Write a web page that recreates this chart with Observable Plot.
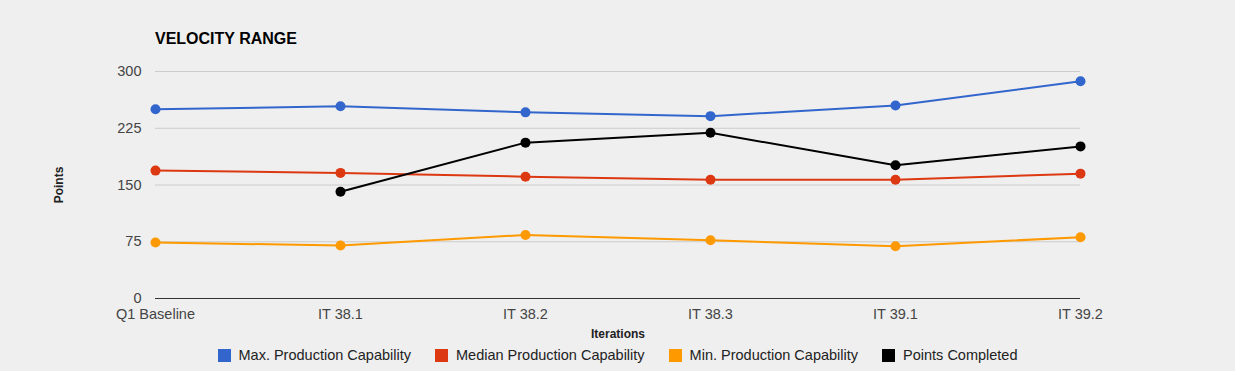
<!DOCTYPE html>
<html><head><meta charset="utf-8">
<script src="https://cdn.jsdelivr.net/npm/d3@7"></script>
<script src="https://cdn.jsdelivr.net/npm/@observablehq/plot@0.6"></script>
<style>
body{margin:0;background:#efefef;font-family:Arial,"Liberation Sans",sans-serif;}
#wrap{position:relative;width:1235px;height:371px;background:#efefef;overflow:hidden;}
#title{position:absolute;left:155px;top:30px;font-weight:bold;font-size:16px;color:#000;}
#legend{position:absolute;left:0;top:347px;width:1235px;display:flex;justify-content:center;font-size:14.5px;color:#222;}
.item{display:flex;align-items:center;margin:0 12px;}
.sw{width:13px;height:13px;margin-right:8px;display:inline-block;}
</style></head>
<body><div id="wrap"><div id="title">VELOCITY RANGE</div><div id="chart"></div><div id="legend"></div></div>
<script>
const categories = ["Q1 Baseline","IT 38.1","IT 38.2","IT 38.3","IT 39.1","IT 39.2"];
const seriesNames = ["Max. Production Capability","Median Production Capability","Min. Production Capability","Points Completed"];
const seriesColors = ["#3366cc","#dc3912","#ff9900","#000000"];
const maxCap = [250,254,246,241,255,287];
const medianCap = [169,166,161,157,157,165];
const minCap = [74,70,84,77,69,81];
const pointsCompleted = [null,141,206,219,176,201];
const yTicks = [0,75,150,225,300];

const seriesValues = [maxCap, medianCap, minCap, pointsCompleted];
const data = [];
seriesValues.forEach((vals, si) => vals.forEach((v, i) => {
  if (v != null) data.push({series: seriesNames[si], cat: categories[i], value: v});
}));

const chart = Plot.plot({
  width: 1235, height: 345,
  marginLeft: 155, marginRight: 155, marginTop: 71, marginBottom: 47,
  style: {background: "#efefef", fontFamily: "Arial, 'Liberation Sans', sans-serif"},
  x: {type: "point", domain: categories, padding: 0},
  y: {domain: [0, 300]},
  color: {domain: seriesNames, range: seriesColors},
  marks: [
    Plot.gridY(yTicks, {stroke: "#cccccc", strokeOpacity: 1}),
    Plot.ruleY([0], {stroke: "#333333", strokeWidth: 1}),
    Plot.axisY(yTicks, {tickSize: 0, tickPadding: 14, fontSize: 14.5, color: "#444", label: "Points", labelAnchor: "center", labelOffset: 101, labelArrow: "none"}),
    Plot.axisX({tickSize: 0, tickPadding: 10, fontSize: 14.5, color: "#444", label: "Iterations", labelAnchor: "center", labelOffset: 39, labelArrow: "none"}),
    Plot.line(data, {x: "cat", y: "value", z: "series", stroke: "series", strokeWidth: 2}),
    Plot.dot(data, {x: "cat", y: "value", fill: "series", r: 5})
  ]
});
document.getElementById("chart").appendChild(chart);
chart.querySelectorAll("[aria-label='y-axis label'] text, [aria-label='x-axis label'] text").forEach(t => {
  t.setAttribute("font-weight", "bold"); t.setAttribute("font-size", "12"); t.setAttribute("fill", "#222");
});

const legend = document.getElementById("legend");
seriesNames.forEach((n, i) => {
  const it = document.createElement("div"); it.className = "item";
  const sw = document.createElement("span"); sw.className = "sw"; sw.style.background = seriesColors[i];
  const tx = document.createElement("span"); tx.textContent = n;
  it.appendChild(sw); it.appendChild(tx); legend.appendChild(it);
});
</script></body></html>
